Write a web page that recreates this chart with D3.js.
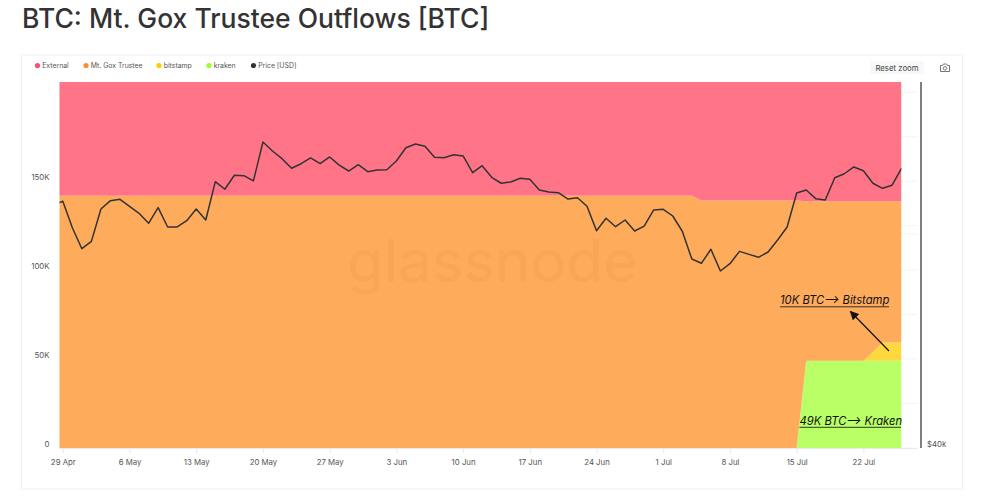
<!DOCTYPE html>
<html>
<head>
<meta charset="utf-8">
<script src="https://cdn.jsdelivr.net/npm/d3@7"></script>
<style>
  html, body { margin: 0; padding: 0; background: #fff; }
  svg { display: block; font-family: Inter, "Noto Sans", sans-serif; }
  .axis text { font-size: 7.8px; fill: #555; font-family: Inter, sans-serif; }
  .axis .domain { stroke: #e6e8ec; }
  .axis line { stroke: #e6e8ec; }
</style>
</head>
<body>
<svg id="chart" width="984" height="501"></svg>
<script>
// daily values starting 28 Apr 2024 (first day sits just outside the plot)
const firstDay = "2024-04-28";
const lastDay = "2024-07-26";

const price = [
  63380, 63830, 60710, 58340, 59160, 62900, 63900, 64060, 63220, 62390,
  61220, 63060, 60790, 60790, 61520, 62900, 61600, 66240, 65290, 67050,
  66990, 66330, 71410, 70200, 69190, 67940, 68530, 69280, 68530, 69410,
  68340, 67590, 68400, 67500, 67720, 67760, 68880, 70640, 71140, 70830,
  69360, 69310, 69710, 69540, 67370, 68270, 66790, 66040, 66200, 66660,
  66540, 65200, 64960, 64870, 64100, 64260, 63220, 60360, 61800, 60820,
  61600, 60330, 60900, 62780, 62860, 62070, 60300, 57210, 56750, 58280,
  55930, 56710, 58050, 57720, 57400, 57980, 59310, 60790, 64830, 65200,
  64140, 63980, 66740, 67240, 68110, 67630, 66040, 65410, 65790, 67940
];

const kraken = [
  0, 0, 0, 0, 0, 0, 0, 0, 0, 0, 0, 0, 0, 0, 0, 0, 0, 0, 0, 0,
  0, 0, 0, 0, 0, 0, 0, 0, 0, 0, 0, 0, 0, 0, 0, 0, 0, 0, 0, 0,
  0, 0, 0, 0, 0, 0, 0, 0, 0, 0, 0, 0, 0, 0, 0, 0, 0, 0, 0, 0,
  0, 0, 0, 0, 0, 0, 0, 0, 0, 0, 0, 0, 0, 0, 0, 0, 0, 0, 0, 49000,
  49000, 49000, 49000, 49000, 49000, 49000, 49000, 49000, 49000, 49000
];

const bitstamp = [
  0, 0, 0, 0, 0, 0, 0, 0, 0, 0, 0, 0, 0, 0, 0, 0, 0, 0, 0, 0,
  0, 0, 0, 0, 0, 0, 0, 0, 0, 0, 0, 0, 0, 0, 0, 0, 0, 0, 0, 0,
  0, 0, 0, 0, 0, 0, 0, 0, 0, 0, 0, 0, 0, 0, 0, 0, 0, 0, 0, 0,
  0, 0, 0, 0, 0, 0, 0, 0, 0, 0, 0, 0, 0, 0, 0, 0, 0, 0, 0, 0,
  0, 0, 0, 0, 0, 0, 5000, 10300, 10300, 10300
];

const trustee = [
  141900, 141900, 141900, 141900, 141900, 141900, 141900, 141900, 141900, 141900,
  141900, 141900, 141900, 141900, 141900, 141900, 141900, 141900, 141900, 141900,
  141900, 141900, 141900, 141900, 141900, 141900, 141900, 141900, 141900, 141900,
  141900, 141900, 141900, 141900, 141900, 141900, 141900, 141900, 141900, 141900,
  141900, 141900, 141900, 141900, 141900, 141900, 141900, 141900, 141900, 141900,
  141900, 141900, 141900, 141900, 141900, 141900, 141900, 141900, 141900, 141900,
  141900, 141900, 141900, 141900, 141900, 141900, 141900, 141900, 139100, 139100,
  139100, 139100, 139100, 139100, 139100, 139100, 139100, 139100, 139100, 89700,
  89700, 89700, 89700, 89700, 89700, 89700, 84700, 79400, 79400, 79400
];

const external = [
  63900, 63900, 63900, 63900, 63900, 63900, 63900, 63900, 63900, 63900,
  63900, 63900, 63900, 63900, 63900, 63900, 63900, 63900, 63900, 63900,
  63900, 63900, 63900, 63900, 63900, 63900, 63900, 63900, 63900, 63900,
  63900, 63900, 63900, 63900, 63900, 63900, 63900, 63900, 63900, 63900,
  63900, 63900, 63900, 63900, 63900, 63900, 63900, 63900, 63900, 63900,
  63900, 63900, 63900, 63900, 63900, 63900, 63900, 63900, 63900, 63900,
  63900, 63900, 63900, 63900, 63900, 63900, 63900, 63900, 66700, 66700,
  66700, 66700, 66700, 66700, 66700, 66700, 66700, 66700, 66700, 67100,
  67100, 67100, 67100, 67100, 67100, 67100, 67100, 67100, 67100, 67100
];

const seriesKeys = ["kraken", "bitstamp", "trustee", "external"];
const seriesColors = { kraken: "#b9ff66", bitstamp: "#ffd83d", trustee: "#ffab5c", external: "#ff7587" };

const legendItems = ["External", "Mt. Gox Trustee", "bitstamp", "kraken", "Price [USD]"];
const legendColors = ["#ff4d67", "#ff8c33", "#ffcc00", "#9dff2e", "#333333"];
const legendX = [37.5, 86, 159, 209, 253.5];

const xTicks = ["2024-04-29", "2024-05-06", "2024-05-13", "2024-05-20", "2024-05-27", "2024-06-03", "2024-06-10",
  "2024-06-17", "2024-06-24", "2024-07-01", "2024-07-08", "2024-07-15", "2024-07-22"];
const yTicks = [0, 50000, 100000, 150000];
const gridTicks = [0, 25000, 50000, 75000, 100000, 125000, 150000, 175000, 200000];

const parseDay = d3.utcParse("%Y-%m-%d");
const days = d3.utcDay.range(parseDay(firstDay), d3.utcDay.offset(parseDay(lastDay), 1));
const rows = days.map((date, i) => ({
  date,
  price: price[i],
  kraken: kraken[i],
  bitstamp: bitstamp[i],
  trustee: trustee[i],
  external: external[i]
}));

const svg = d3.select("#chart");
const plot = { left: 59.5, right: 901.5, top: 82, bottom: 448 };

// card
svg.append("rect")
  .attr("x", 21.5).attr("y", 55)
  .attr("width", 941).attr("height", 434)
  .attr("fill", "#fff").attr("stroke", "#f0f1f3");

svg.append("text")
  .attr("x", 22).attr("y", 28)
  .attr("font-size", 26.5).attr("font-weight", 500).attr("fill", "#333")
  .text("BTC: Mt. Gox Trustee Outflows [BTC]");

// scales
const xScale = d3.scaleUtc()
  .domain([new Date(Date.UTC(2024, 3, 28, 15, 40)), parseDay(lastDay)])
  .range([plot.left, plot.right]);
const yScale = d3.scaleLinear().domain([0, 205800]).range([plot.bottom, plot.top]);
const priceScale = d3.scaleLog().domain([40000, 80000]).range([plot.bottom, plot.top]);

// grid only shows in the strip right of the areas
svg.append("g").selectAll("line")
  .data(gridTicks)
  .join("line")
  .attr("x1", plot.left).attr("x2", 917)
  .attr("y1", d => yScale(d)).attr("y2", d => yScale(d))
  .attr("stroke", "#f3f4f6");

svg.append("line")
  .attr("x1", plot.left).attr("x2", 917)
  .attr("y1", priceScale(60000)).attr("y2", priceScale(60000))
  .attr("stroke", "#f3f4f6");

// axes
svg.append("g")
  .attr("class", "axis")
  .attr("transform", `translate(0,${plot.bottom})`)
  .call(d3.axisBottom(xScale)
    .tickValues(xTicks.map(parseDay))
    .tickSize(5)
    .tickPadding(6)
    .tickFormat(d3.utcFormat("%-d %b")))
  .call(g => g.select(".domain").attr("d", `M${plot.left},0.5H917`));

svg.append("g")
  .attr("class", "axis")
  .attr("transform", "translate(49.5,-4)")
  .call(d3.axisLeft(yScale)
    .tickValues(yTicks)
    .tickSize(0)
    .tickPadding(0)
    .tickFormat(d => d === 0 ? "0" : d / 1000 + "K"))
  .call(g => g.select(".domain").remove());

// stacked areas
svg.append("clipPath").attr("id", "plot-clip")
  .append("rect")
  .attr("x", plot.left).attr("y", plot.top)
  .attr("width", plot.right - plot.left).attr("height", plot.bottom - plot.top);

const stacked = d3.stack().keys(seriesKeys)(rows);
const area = d3.area()
  .x(d => xScale(d.data.date))
  .y0(d => yScale(d[0]))
  .y1(d => yScale(d[1]));

const plotArea = svg.append("g").attr("clip-path", "url(#plot-clip)");

plotArea.selectAll(".layer")
  .data(stacked)
  .join("path")
  .attr("class", "layer")
  .attr("fill", d => seriesColors[d.key])
  .attr("d", area);

// watermark
plotArea.append("text")
  .attr("x", 347).attr("y", 282)
  .attr("font-family", "Inter, sans-serif")
  .attr("font-size", 59)
  .attr("textLength", 291)
  .attr("lengthAdjust", "spacingAndGlyphs")
  .attr("fill", "#e8963f")
  .attr("fill-opacity", 0.25)
  .text("glassnode");

// price line
const line = d3.line()
  .x(d => xScale(d.date))
  .y(d => priceScale(d.price));

plotArea.append("path")
  .datum(rows)
  .attr("fill", "none")
  .attr("stroke", "#333")
  .attr("stroke-width", 1.5)
  .attr("stroke-linejoin", "round")
  .attr("d", line);

// price axis
svg.append("line")
  .attr("x1", 921).attr("x2", 921)
  .attr("y1", plot.top).attr("y2", plot.bottom)
  .attr("stroke", "#555").attr("stroke-width", 1.5);

svg.append("text")
  .attr("x", 927).attr("y", 447)
  .attr("font-size", 7.8).attr("fill", "#555")
  .text("$40k");

// legend
const legend = svg.append("g").selectAll("g")
  .data(legendItems)
  .join("g")
  .attr("transform", (d, i) => `translate(${legendX[i]},65.5)`);

legend.append("circle")
  .attr("r", 2.6)
  .attr("fill", (d, i) => legendColors[i]);

legend.append("text")
  .attr("x", 4.7).attr("y", 2.6)
  .attr("font-size", 6.9).attr("fill", "#555")
  .text(d => d);

// reset button and camera icon
svg.append("rect")
  .attr("x", 870).attr("y", 61)
  .attr("width", 54).attr("height", 13).attr("rx", 2)
  .attr("fill", "#f7f8fa");

svg.append("text")
  .attr("x", 897).attr("y", 70.8)
  .attr("text-anchor", "middle")
  .attr("font-size", 7.8).attr("fill", "#444")
  .text("Reset zoom");

const camera = svg.append("g")
  .attr("fill", "none").attr("stroke", "#666").attr("stroke-width", 0.9);
camera.append("path").attr("d", "M940.5,65.5h2l1,-1.5h3l1,1.5h2v6h-9z");
camera.append("circle").attr("cx", 945).attr("cy", 68.3).attr("r", 1.7);

// annotations
function note(label, x, y, width) {
  svg.append("text")
    .attr("x", x).attr("y", y)
    .attr("font-size", 11.25).attr("font-style", "italic").attr("fill", "#111")
    .text(label);
  svg.append("line")
    .attr("x1", x).attr("x2", x + width)
    .attr("y1", y + 2.8).attr("y2", y + 2.8)
    .attr("stroke", "#222").attr("stroke-width", 0.9);
}
note("10K BTC\u27F6 Bitstamp", 780, 304, 109);
note("49K BTC\u27F6 Kraken", 799.5, 424.5, 101.5);

svg.append("defs").append("marker")
  .attr("id", "arrow-head")
  .attr("viewBox", "0 0 10 10").attr("refX", 8).attr("refY", 5)
  .attr("markerWidth", 9).attr("markerHeight", 9).attr("markerUnits", "userSpaceOnUse")
  .attr("orient", "auto")
  .append("path").attr("d", "M0,0L10,5L0,10z").attr("fill", "#111");

svg.append("line")
  .attr("x1", 889).attr("y1", 351)
  .attr("x2", 851).attr("y2", 312)
  .attr("stroke", "#111").attr("stroke-width", 1.2)
  .attr("marker-end", "url(#arrow-head)");
</script>
</body>
</html>
